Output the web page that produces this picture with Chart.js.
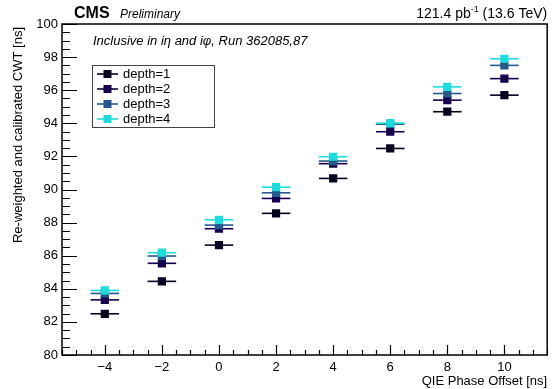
<!DOCTYPE html>
<html>
<head>
<meta charset="utf-8">
<script src="https://cdn.jsdelivr.net/npm/chart.js@4"></script>
<style>
  html, body { margin: 0; padding: 0; background: #fff; }
  #wrap { width: 553px; height: 389px; }
</style>
</head>
<body>
<div id="wrap"><canvas id="cwtChart" width="553" height="389"></canvas></div>
<script>
const phaseOffsets = [-4, -2, 0, 2, 4, 6, 8, 10];
const depth1 = [82.49, 84.45, 86.64, 88.56, 90.67, 92.48, 94.70, 95.70];
const depth2 = [83.33, 85.54, 87.63, 89.46, 91.56, 93.49, 95.40, 96.70];
const depth3 = [83.72, 85.98, 87.85, 89.80, 91.72, 93.95, 95.80, 97.50];
const depth4 = [83.90, 86.18, 88.17, 90.14, 91.98, 94.01, 96.20, 97.90];
const xErr = 0.5;
const depthLabels = ['depth=1', 'depth=2', 'depth=3', 'depth=4'];
const depthColors = ['#04041f', '#15004e', '#245a8b', '#1edcdc'];
const xTickValues = [-4, -2, 0, 2, 4, 6, 8, 10];
const yTickValues = [80, 82, 84, 86, 88, 90, 92, 94, 96, 98, 100];

const FONT = '"Liberation Sans", Arial, sans-serif';

function makeDataset(values, i) {
  return {
    label: depthLabels[i],
    data: values.map((v, k) => ({ x: phaseOffsets[k], y: v })),
    showLine: false,
    pointStyle: 'rect',
    pointRadius: 5.8,
    pointHoverRadius: 5.8,
    backgroundColor: depthColors[i],
    borderColor: depthColors[i],
    borderWidth: 0,
    order: 3 - i
  };
}

// horizontal error bars, drawn under the markers
const errorBars = {
  id: 'errorBars',
  beforeDatasetsDraw(chart) {
    const ctx = chart.ctx;
    const xs = chart.scales.x, ys = chart.scales.y;
    ctx.save();
    chart.data.datasets.forEach(ds => {
      ctx.strokeStyle = ds.borderColor;
      ctx.lineWidth = 1.6;
      ds.data.forEach(p => {
        const y = ys.getPixelForValue(p.y);
        ctx.beginPath();
        ctx.moveTo(xs.getPixelForValue(p.x - xErr), y);
        ctx.lineTo(xs.getPixelForValue(p.x + xErr), y);
        ctx.stroke();
      });
    });
    ctx.restore();
  }
};

// ROOT style frame, inward ticks, titles, legend and labels
const rootStyle = {
  id: 'rootStyle',
  afterDraw(chart) {
    const ctx = chart.ctx;
    const a = chart.chartArea;
    const xs = chart.scales.x, ys = chart.scales.y;
    ctx.save();
    ctx.strokeStyle = '#000';
    ctx.lineWidth = 1.5;
    ctx.strokeRect(a.left, a.top, a.right - a.left, a.bottom - a.top);

    ctx.lineWidth = 1.2;
    ctx.beginPath();
    for (let v = -5.5; v <= 11.5; v += 0.5) {
      const x = Math.round(xs.getPixelForValue(v)) + 0.5;
      const len = (v % 2 === 0) ? 10 : 5;
      ctx.moveTo(x, a.bottom);
      ctx.lineTo(x, a.bottom - len);
    }
    for (let v = 80; v <= 100; v += 0.5) {
      const y = Math.round(ys.getPixelForValue(v)) + 0.5;
      const len = (v % 2 === 0) ? 15 : 8;
      ctx.moveTo(a.left, y);
      ctx.lineTo(a.left + len, y);
    }
    ctx.stroke();

    // axis titles
    ctx.fillStyle = '#000';
    ctx.font = '13px ' + FONT;
    ctx.textAlign = 'right';
    ctx.textBaseline = 'alphabetic';
    ctx.fillText('QIE Phase Offset [ns]', a.right, 385);
    ctx.save();
    ctx.translate(22, a.top + 3);
    ctx.rotate(-Math.PI / 2);
    ctx.fillText('Re-weighted and calibrated CWT [ns]', 0, 0);
    ctx.restore();

    // header
    ctx.textAlign = 'left';
    ctx.font = 'bold 16px ' + FONT;
    ctx.fillText('CMS', 74, 18);
    ctx.font = 'italic 12px ' + FONT;
    ctx.fillText('Preliminary', 120, 18);
    ctx.textAlign = 'right';
    ctx.font = '14px ' + FONT;
    const tail = ' (13.6 TeV)';
    const wTail = ctx.measureText(tail).width;
    ctx.fillText(tail, a.right, 18);
    ctx.font = '9px ' + FONT;
    const wSup = ctx.measureText('-1').width;
    ctx.fillText('-1', a.right - wTail, 12);
    ctx.font = '14px ' + FONT;
    ctx.fillText('121.4 pb', a.right - wTail - wSup, 18);

    ctx.textAlign = 'left';
    ctx.font = 'italic 13px ' + FONT;
    ctx.fillText('Inclusive in i\u03b7 and i\u03c6, Run 362085,87', 93, 45);

    // legend
    ctx.lineWidth = 1;
    ctx.strokeStyle = '#444';
    ctx.strokeRect(92.5, 65.5, 122, 62);
    ctx.font = '13px ' + FONT;
    ctx.textBaseline = 'middle';
    depthLabels.forEach((lab, i) => {
      const y = 74 + i * 15;
      ctx.strokeStyle = depthColors[i];
      ctx.lineWidth = 1.6;
      ctx.beginPath();
      ctx.moveTo(97, y);
      ctx.lineTo(118, y);
      ctx.stroke();
      ctx.fillStyle = depthColors[i];
      ctx.fillRect(103.5, y - 4, 8, 8);
      ctx.fillStyle = '#000';
      ctx.fillText(lab, 123, y + 0.5);
    });
    ctx.restore();
  }
};

const ctx1 = document.getElementById('cwtChart').getContext('2d');
new Chart(ctx1, {
  type: 'scatter',
  data: { datasets: [depth1, depth2, depth3, depth4].map(makeDataset) },
  options: {
    responsive: false,
    animation: false,
    layout: { padding: { top: 24, right: 3, left: 0, bottom: 0 } },
    plugins: { legend: { display: false }, tooltip: { enabled: false } },
    scales: {
      x: {
        type: 'linear', min: -5.5, max: 11.5,
        afterBuildTicks: s => { s.ticks = xTickValues.map(v => ({ value: v })); },
        afterFit: s => { s.height = 34; },
        grid: { display: false, tickLength: 0 },
        border: { display: false },
        ticks: {
          color: '#000', padding: 5, maxRotation: 0,
          font: { family: FONT, size: 13 },
          callback: v => String(v).replace('-', '\u2212')
        }
      },
      y: {
        type: 'linear', min: 80, max: 100,
        afterBuildTicks: s => { s.ticks = yTickValues.map(v => ({ value: v })); },
        afterFit: s => { s.width = 62; },
        grid: { display: false, tickLength: 0 },
        border: { display: false },
        ticks: { color: '#000', padding: 4, font: { family: FONT, size: 13 } }
      }
    }
  },
  plugins: [errorBars, rootStyle]
});
</script>
</body>
</html>
